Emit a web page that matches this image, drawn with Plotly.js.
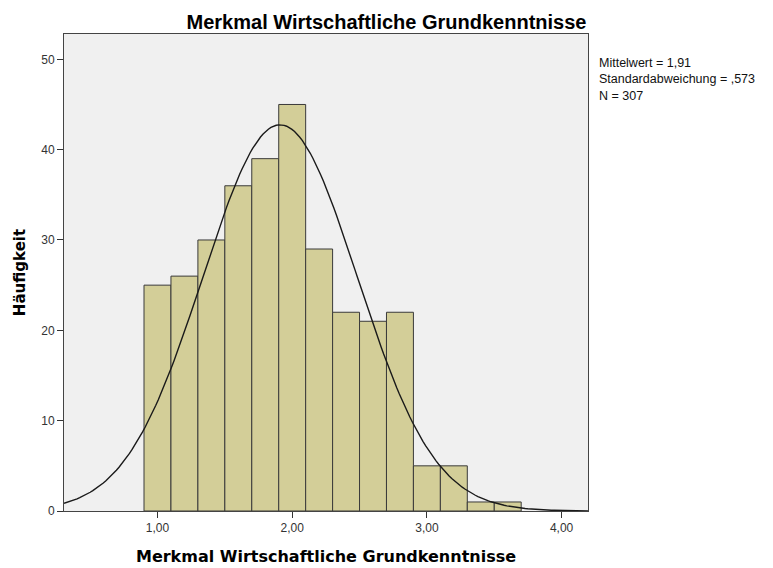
<!DOCTYPE html>
<html>
<head>
<meta charset="utf-8">
<script src="https://cdn.plot.ly/plotly-3.0.1.min.js"></script>
<style>html,body{margin:0;padding:0;background:#fff;}#chart{width:773px;height:568px;}</style>
</head>
<body>
<div id="chart"></div>
<script>
// Histogram bins (class centres, width 0.2) and frequencies
var binCenters = [1.0, 1.2, 1.4, 1.6, 1.8, 2.0, 2.2, 2.4, 2.6, 2.8, 3.0, 3.2, 3.4, 3.6];
var counts     = [25, 26, 30, 36, 39, 45, 29, 22, 21, 22, 5, 5, 1, 1];
var binWidth = 0.2;
// Summary statistics shown in the chart
var meanValue = 1.91;
var sdValue = 0.573;
var nValue = 307;
var xTickVals = [1, 2, 3, 4];
var xTickText = ["1,00", "2,00", "3,00", "4,00"];
var yTickVals = [0, 10, 20, 30, 40, 50];
var statsLines = ["Mittelwert = 1,91", "Standardabweichung = ,573", "N = 307"];

var xMin = 0.306, xMax = 4.196;
// Fitted normal curve from the stated mean/SD/N
var curveX = [], curveY = [];
for (var i = 0; i <= 200; i++) {
  var x = xMin + (xMax - xMin) * i / 200;
  var z = (x - meanValue) / sdValue;
  curveX.push(x);
  curveY.push(nValue * binWidth / (sdValue * Math.sqrt(2 * Math.PI)) * Math.exp(-0.5 * z * z));
}

var traces = [
  {
    type: 'bar', x: binCenters, y: counts, width: binWidth,
    marker: {color: '#d3ce98', line: {color: '#3a3a3a', width: 1}},
    hoverinfo: 'x+y'
  },
  {
    type: 'scatter', mode: 'lines', x: curveX, y: curveY,
    line: {color: '#1a1a1a', width: 1.4}, hoverinfo: 'skip'
  }
];

var plotTop = 34, plotBottom = 511;

var layout = {
  width: 773, height: 568,
  margin: {l: 64, r: 185, t: plotTop, b: 568 - plotBottom, pad: 0},
  paper_bgcolor: '#ffffff', plot_bgcolor: '#f0f0f0',
  showlegend: false,
  separators: ',.',
  font: {family: 'Liberation Sans, Arial, sans-serif', color: '#222'},
  title: {
    text: 'Merkmal Wirtschaftliche Grundkenntnisse',
    font: {family: 'Liberation Sans, Arial, sans-serif', size: 20, color: '#000', weight: 'bold'},
    x: 0.5, xref: 'container', xanchor: 'center', y: 0.962, yref: 'container', yanchor: 'middle'
  },
  bargap: 0,
  xaxis: {
    range: [xMin, xMax], tickmode: 'array', tickvals: xTickVals, ticktext: xTickText,
    ticks: 'outside', ticklen: 6, tickcolor: '#333', tickwidth: 1,
    showgrid: false, zeroline: false,
    showline: true, linecolor: '#444', linewidth: 1, mirror: true,
    tickfont: {size: 12, color: '#333'},
    title: {text: 'Merkmal Wirtschaftliche Grundkenntnisse', standoff: 16,
            font: {family: 'DejaVu Sans, Verdana, sans-serif', size: 16, color: '#000', weight: 'bold'}}
  },
  yaxis: {
    range: [0, 52.8], tickmode: 'array', tickvals: yTickVals,
    ticks: 'outside', ticklen: 6, tickcolor: '#333', tickwidth: 1,
    showgrid: false, zeroline: false,
    showline: true, linecolor: '#444', linewidth: 1, mirror: true,
    tickfont: {size: 12, color: '#333'},
    title: {text: 'Häufigkeit', standoff: 11,
            font: {family: 'DejaVu Sans, Verdana, sans-serif', size: 15, color: '#000', weight: 'bold'}}
  },
  annotations: [{
    text: statsLines.join('<br>'), xref: 'paper', yref: 'paper',
    x: 1.017, y: (plotBottom - 79.5) / (plotBottom - plotTop),
    xanchor: 'left', yanchor: 'middle', align: 'left', showarrow: false,
    font: {family: 'Liberation Sans, Arial, sans-serif', size: 12.5, color: '#111'}
  }]
};

Plotly.newPlot('chart', traces, layout, {displayModeBar: false, staticPlot: true});
</script>
</body>
</html>
